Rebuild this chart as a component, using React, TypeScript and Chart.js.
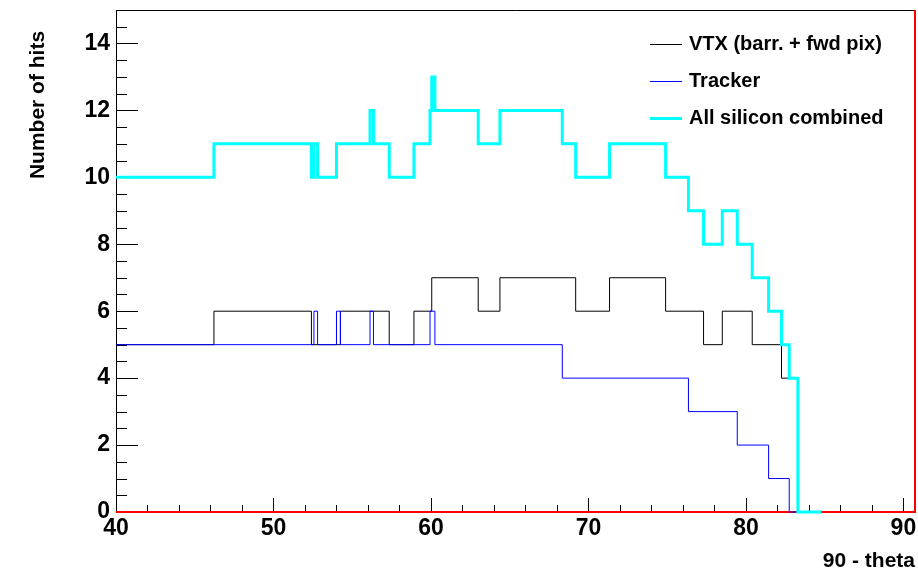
import React, { useEffect, useRef } from "react";
import { Chart, registerables } from "chart.js";

Chart.register(...registerables);

// ---- data (bin edges where the value changes, value of each interval) ----
const vtxEdges = [40, 46.22, 52.41, 54.25, 57.35, 58.92, 60.05, 63.0, 64.38, 69.19, 71.34, 74.9, 77.31, 78.5, 80.4, 82.26, 83.3, 84.8];
const vtxHits = [5, 6, 5, 6, 5, 6, 7, 6, 7, 6, 7, 6, 5, 6, 5, 4, 0];

const trackerEdges = [40, 52.57, 52.8, 54.0, 54.25, 56.13, 56.35, 59.94, 60.25, 68.34, 76.35, 79.45, 81.44, 82.75, 84.8];
const trackerHits = [5, 6, 5, 6, 5, 6, 5, 6, 5, 4, 3, 2, 1, 0];

const siliconEdges = [40, 46.22, 52.41, 52.57, 52.8, 54.0, 56.13, 56.35, 57.35, 58.92, 59.94, 60.05, 60.25, 63.0, 64.38, 68.34, 69.19, 71.34, 74.9, 76.35, 77.31, 78.5, 79.45, 80.4, 81.44, 82.26, 82.75, 83.3, 84.8];
const siliconHits = [10, 11, 10, 11, 10, 11, 12, 11, 10, 11, 12, 13, 12, 11, 12, 11, 10, 11, 10, 9, 8, 9, 8, 7, 6, 5, 4, 0];

const baseEdges = [40, 90.8];
const baseHits = [0];

const seriesLabels = ["VTX (barr. + fwd pix)", "Tracker", "All silicon combined"];

const xTickLabels = [40, 50, 60, 70, 80, 90];
const yTickLabels = [0, 2, 4, 6, 8, 10, 12, 14];

const X_MIN = 40;
const X_MAX = 90.8;
const Y_MIN = 0;
const Y_MAX = 15;

const FONT = '"Liberation Sans", Arial, Helvetica, sans-serif';

function toSteps(edges: number[], values: number[]) {
  const pts = values.map((v, i) => ({ x: edges[i], y: v }));
  pts.push({ x: edges[edges.length - 1], y: values[values.length - 1] });
  return pts;
}

const rootPlugin = {
  id: "rootFrame",
  beforeDatasetsDraw(chart: any) {
    const { ctx, chartArea } = chart;
    const { left, top, right, bottom } = chartArea;
    const xs = chart.scales.x;
    const ys = chart.scales.y;
    ctx.save();
    ctx.strokeStyle = "#000";
    ctx.lineWidth = 1;
    ctx.beginPath();
    ctx.moveTo(left + 0.5, bottom + 0.5);
    ctx.lineTo(left + 0.5, top + 0.5);
    ctx.lineTo(right, top + 0.5);
    ctx.moveTo(left, bottom + 0.5);
    ctx.lineTo(right, bottom + 0.5);
    ctx.stroke();

    // x ticks (inward)
    ctx.beginPath();
    for (let v = X_MIN; v <= X_MAX + 1e-9; v += 2) {
      const px = Math.round(xs.getPixelForValue(v)) + 0.5;
      const major = Math.abs(v % 10) < 1e-6;
      const len = major ? 14 : 7;
      ctx.moveTo(px, bottom);
      ctx.lineTo(px, bottom - len);
    }
    // y ticks (inward)
    for (let v = Y_MIN; v <= Y_MAX + 1e-9; v += 0.5) {
      const py = Math.round(ys.getPixelForValue(v)) + 0.5;
      const major = Math.abs(v % 2) < 1e-6;
      const len = major ? 22 : 11;
      ctx.moveTo(left, py);
      ctx.lineTo(left + len, py);
    }
    ctx.stroke();

    // red right edge
    ctx.strokeStyle = "#ff0000";
    ctx.lineWidth = 2;
    ctx.beginPath();
    ctx.moveTo(right - 1, top);
    ctx.lineTo(right - 1, bottom + 1);
    ctx.stroke();
    ctx.restore();
  },
  afterDraw(chart: any) {
    const { ctx } = chart;
    ctx.save();
    ctx.fillStyle = "#000";
    // axis titles
    ctx.font = `bold 21px ${FONT}`;
    ctx.textBaseline = "middle";
    ctx.save();
    ctx.translate(38, 105);
    ctx.rotate(-Math.PI / 2);
    ctx.textAlign = "center";
    ctx.fillText("Number of hits", 0, 0);
    ctx.restore();
    ctx.textAlign = "right";
    ctx.fillText("90 - theta", 915, 561);

    // legend
    ctx.font = `bold 20px ${FONT}`;
    ctx.textAlign = "left";
    const datasets = chart.data.datasets.filter((d: any) => d.label);
    datasets.forEach((d: any, i: number) => {
      const yy = 44 + 37 * i;
      ctx.strokeStyle = d.borderColor;
      ctx.lineWidth = d.borderWidth;
      ctx.beginPath();
      ctx.moveTo(650, yy + 0.5);
      ctx.lineTo(682, yy + 0.5);
      ctx.stroke();
      ctx.fillStyle = "#000";
      ctx.fillText(d.label, 689, yy);
    });
    ctx.restore();
  },
};

function zeroPad(s: any) {
  s.paddingTop = 0;
  s.paddingBottom = 0;
  s.paddingLeft = 0;
  s.paddingRight = 0;
}

export default function App() {
  const canvasRef = useRef<HTMLCanvasElement | null>(null);

  useEffect(() => {
    document.body.style.margin = "0";
    const canvas = canvasRef.current;
    if (!canvas) return;
    const tickFont = { family: FONT, size: 23, weight: "bold" as const };
    const chart = new Chart(canvas, {
      type: "line",
      data: {
        datasets: [
          {
            label: seriesLabels[0],
            data: toSteps(vtxEdges, vtxHits),
            borderColor: "#000000",
            borderWidth: 1,
            stepped: true,
            pointRadius: 0,
            fill: false,
            order: 2,
            clip: false,
          },
          {
            label: seriesLabels[1],
            data: toSteps(trackerEdges, trackerHits),
            borderColor: "#0000ff",
            borderWidth: 1,
            stepped: true,
            pointRadius: 0,
            fill: false,
            order: 1,
            clip: false,
          },
          {
            label: seriesLabels[2],
            data: toSteps(siliconEdges, siliconHits),
            borderColor: "#00ffff",
            borderWidth: 3,
            stepped: true,
            pointRadius: 0,
            fill: false,
            order: 0,
            clip: false,
          },
          {
            label: "",
            data: toSteps(baseEdges, baseHits),
            borderColor: "#ff0000",
            borderWidth: 2,
            stepped: true,
            pointRadius: 0,
            fill: false,
            order: 3,
            clip: false,
          },
        ] as any,
      },
      options: {
        animation: false,
        responsive: false,
        maintainAspectRatio: false,
        layout: { padding: { top: 10, right: 2, left: 0, bottom: 0 } },
        plugins: { legend: { display: false }, tooltip: { enabled: false } },
        scales: {
          x: {
            type: "linear",
            min: X_MIN,
            max: X_MAX,
            afterBuildTicks: (s: any) => {
              s.ticks = xTickLabels.map((v) => ({ value: v }));
            },
            afterFit: (s: any) => {
              s.height = 62;
              zeroPad(s);
            },
            grid: { display: false, drawTicks: false },
            border: { display: false },
            ticks: {
              font: tickFont,
              color: "#000",
              padding: 3,
              maxRotation: 0,
              autoSkip: false,
            },
          },
          y: {
            type: "linear",
            min: Y_MIN,
            max: Y_MAX,
            afterBuildTicks: (s: any) => {
              s.ticks = yTickLabels.map((v) => ({ value: v }));
            },
            afterFit: (s: any) => {
              s.width = 116;
              zeroPad(s);
            },
            grid: { display: false, drawTicks: false },
            border: { display: false },
            ticks: {
              font: tickFont,
              color: "#000",
              padding: 6,
              autoSkip: false,
            },
          },
        },
      } as any,
      plugins: [rootPlugin],
    });
    return () => chart.destroy();
  }, []);

  return (
    <canvas
      ref={canvasRef}
      width={918}
      height={574}
      style={{ display: "block", width: 918, height: 574 }}
    />
  );
}
